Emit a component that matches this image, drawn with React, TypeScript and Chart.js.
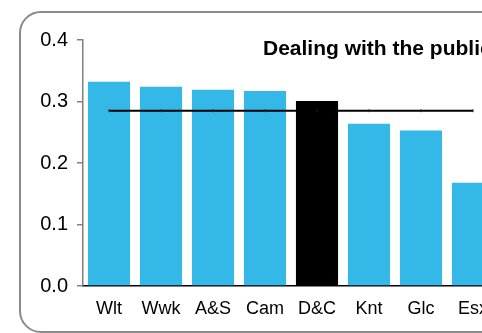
import React, { useEffect, useRef } from "react";
import { Chart, registerables } from "chart.js";

Chart.register(...registerables);

const categories = ["Wlt", "Wwk", "A&S", "Cam", "D&C", "Knt", "Glc", "Esx"];
const values = [0.332, 0.324, 0.319, 0.317, 0.301, 0.264, 0.253, 0.168];
const averageValue = 0.285;
const averageSeries = categories.map(() => averageValue);
const highlight = "D&C";
const yTicks = [0, 0.1, 0.2, 0.3, 0.4];
const titleText = "Dealing with the public";

const FONT = "'Liberation Sans', Arial, sans-serif";

export default function App() {
  const ref = useRef<HTMLCanvasElement | null>(null);

  useEffect(() => {
    if (!ref.current) return;
    const titlePlugin = {
      id: "innerTitle",
      afterDatasetsDraw(chart: any) {
        const ctx = chart.ctx;
        ctx.save();
        ctx.font = `bold 21px ${FONT}`;
        ctx.fillStyle = "#000";
        ctx.textAlign = "left";
        ctx.textBaseline = "alphabetic";
        ctx.fillText(titleText, chart.chartArea.left + 180, chart.chartArea.top + 15);
        ctx.restore();
      },
    };
    const chart = new Chart(ref.current, {
      type: "bar",
      data: {
        labels: categories,
        datasets: [
          {
            type: "line",
            data: averageSeries,
            borderColor: "#000",
            borderWidth: 2,
            pointStyle: "line",
            rotation: 90,
            pointRadius: 1.5,
            pointBorderColor: "#222",
            pointBorderWidth: 1,
            order: 0,
          } as any,
          {
            type: "bar",
            data: values,
            backgroundColor: categories.map((c) => (c === highlight ? "#000000" : "#33b8e8")),
            borderWidth: 0,
            categoryPercentage: 1,
            barPercentage: 0.81,
            order: 1,
          },
        ],
      },
      options: {
        responsive: false,
        animation: false,
        devicePixelRatio: 1,
        layout: { padding: { left: 0, right: 41, top: 40, bottom: 0 } },
        plugins: { legend: { display: false }, tooltip: { enabled: false }, title: { display: false } },
        scales: {
          x: {
            grid: { display: false, drawTicks: false },
            border: { display: true, color: "#000", width: 1.5 },
            ticks: { color: "#000", font: { family: FONT, size: 18 }, padding: 12, maxRotation: 0, autoSkip: false },
            afterFit: (s: any) => {
              s.height = 47;
            },
          },
          y: {
            min: 0,
            max: 0.4,
            afterBuildTicks: (s: any) => {
              s.ticks = yTicks.map((v) => ({ value: v }));
            },
            grid: { drawOnChartArea: false, drawTicks: true, tickLength: 6, color: "#808080", lineWidth: 1.5 },
            border: { display: true, color: "#808080", width: 1.5 },
            ticks: {
              color: "#000",
              font: { family: FONT, size: 20 },
              padding: 9,
              callback: (v: any) => Number(v).toFixed(1),
            },
            afterFit: (s: any) => {
              s.width = 83;
            },
          },
        },
      },
      plugins: [titlePlugin],
    });
    return () => chart.destroy();
  }, []);

  return (
    <div style={{ position: "fixed", left: 0, top: 0, width: 482, height: 333, overflow: "hidden", background: "#fff" }}>
      <div
        style={{
          position: "absolute",
          left: 19,
          top: 11,
          width: 620,
          height: 318,
          border: "2px solid #8a8a8a",
          borderRadius: 22,
        }}
      />
      <canvas ref={ref} width={540} height={333} style={{ position: "absolute", left: 0, top: 0 }} />
    </div>
  );
}
